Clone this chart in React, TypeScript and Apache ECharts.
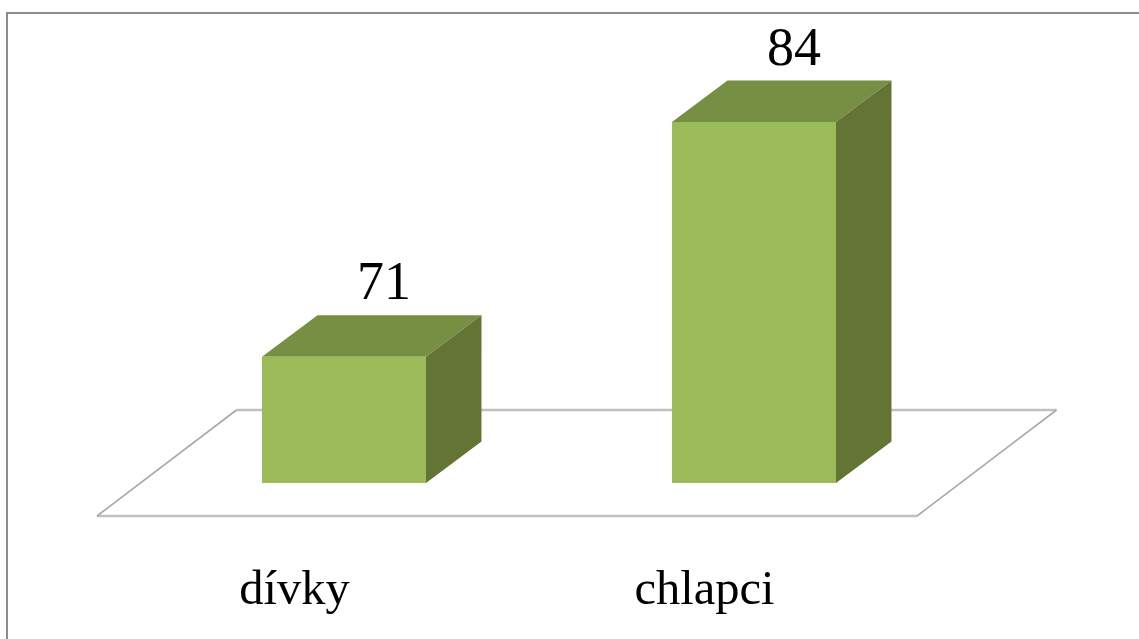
import React, { useEffect, useRef } from "react";
import * as echarts from "echarts";

const categories = ["dívky", "chlapci"];
const values = [71, 84];
const baseValue = 64;
const axisMin = 60;
const axisMax = 90;

const FRONT = "#9BBB59";
const TOP = "#778F43";
const SIDE = "#647434";
const DEPTH_X = 55.5;
const DEPTH_Y = 41.5;
const FONT = '"Liberation Serif", "Times New Roman", serif';

function renderFloor(params: any, api: any) {
  const cs = params.coordSys;
  const baseY = api.coord([0, baseValue])[1];
  const fy = baseY + 33;
  const by = fy - 106;
  const fl = cs.x;
  const fr = cs.x + cs.width;
  const shift = 139.5;
  const flat = { stroke: "#C0C0C0", lineWidth: 2.6, fill: "none" };
  const diag = { stroke: "#A8A8A8", lineWidth: 1.6, fill: "none" };
  return {
    type: "group",
    children: [
      { type: "line", shape: { x1: fl, y1: fy, x2: fr, y2: fy }, style: flat },
      { type: "line", shape: { x1: fl + shift, y1: by, x2: fr + shift, y2: by }, style: flat },
      { type: "line", shape: { x1: fl, y1: fy, x2: fl + shift, y2: by }, style: diag },
      { type: "line", shape: { x1: fr, y1: fy, x2: fr + shift, y2: by }, style: diag },
    ],
  };
}

function renderBar(_params: any, api: any) {
  const idx = api.value(0);
  const [cx, top] = api.coord([idx, api.value(1)]);
  const bottom = api.coord([idx, baseValue])[1];
  const band = api.size([1, 0])[0];
  const w = band * 0.4;
  const l = cx + band * 0.1024 - w / 2;
  const r = l + w;
  return {
    type: "group",
    children: [
      {
        type: "polygon",
        shape: { points: [[l, top], [r, top], [r + DEPTH_X, top - DEPTH_Y], [l + DEPTH_X, top - DEPTH_Y]] },
        style: { fill: TOP },
      },
      {
        type: "polygon",
        shape: { points: [[r, top], [r + DEPTH_X, top - DEPTH_Y], [r + DEPTH_X, bottom - DEPTH_Y], [r, bottom]] },
        style: { fill: SIDE },
      },
      { type: "rect", shape: { x: l, y: top, width: w, height: bottom - top }, style: { fill: FRONT } },
      {
        type: "text",
        x: (l + r) / 2 + 40,
        y: top - DEPTH_Y - 7,
        style: {
          text: String(api.value(1)),
          fill: "#000",
          font: `54px ${FONT}`,
          align: "center",
          verticalAlign: "bottom",
        },
      },
    ],
  };
}

export default function App() {
  const ref = useRef<HTMLDivElement>(null);
  useEffect(() => {
    const chart = echarts.init(ref.current!, null, { renderer: "svg" });
    chart.setOption({
      animation: false,
      backgroundColor: "#fff",
      grid: { left: 97, width: 820, top: 13.7, height: 541.5 },
      xAxis: {
        type: "category",
        data: categories,
        axisLine: { show: false },
        axisTick: { show: false },
        axisLabel: {
          color: "#000",
          fontFamily: FONT,
          fontSize: 48.5,
          margin: 8,
          padding: [0, 15, 0, 0],
        },
      },
      yAxis: { type: "value", min: axisMin, max: axisMax, show: false, splitLine: { show: false } },
      graphic: [
        {
          type: "polyline",
          shape: { points: [[7, 639], [7, 13], [1139, 13]] },
          style: { stroke: "#8C8C8C", lineWidth: 2, fill: "none" },
          silent: true,
        },
      ],
      series: [
        { type: "custom", renderItem: renderFloor, data: [[0, baseValue]], silent: true, z: 1 },
        {
          type: "custom",
          renderItem: renderBar,
          data: values.map((v, i) => [i, v]),
          encode: { x: 0, y: 1 },
          z: 2,
        },
      ],
    });
    return () => chart.dispose();
  }, []);
  return <div ref={ref} style={{ position: "absolute", left: 0, top: 0, width: 1139, height: 639 }} />;
}
